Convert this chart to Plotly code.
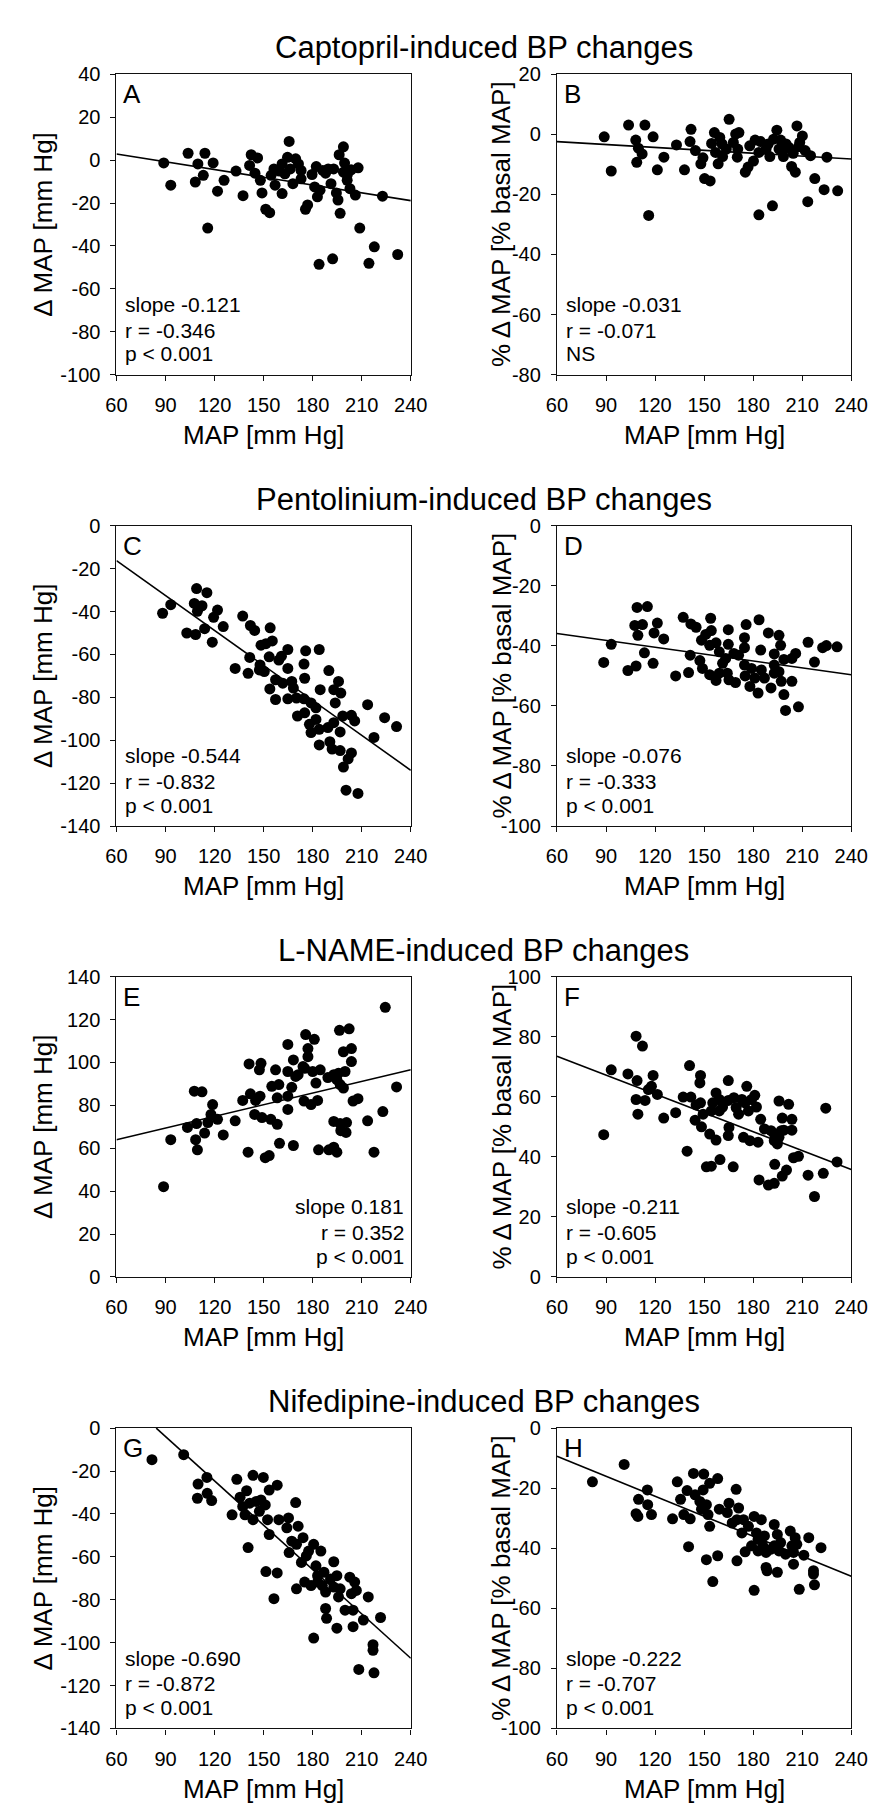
import plotly.graph_objects as go

# ---------------- data ----------------
MAP_TICKS = [60, 90, 120, 150, 180, 210, 240]

TITLES = ["Captopril-induced BP changes", "Pentolinium-induced BP changes",
          "L-NAME-induced BP changes", "Nifedipine-induced BP changes"]
X_TITLE = "MAP [mm Hg]"
Y_TITLE_ABS = "\u0394 MAP [mm Hg]"
Y_TITLE_PCT = "% \u0394 MAP [% basal MAP]"

A_points = [(88.9, -1.3), (93.2, -11.7), (103.8, 3.2), (108.2, -10.2), (109.8, -1.8), (114.1, 3.2),
            (113.1, -7.1), (115.8, -31.7), (119.1, -1.3), (121.8, -14.5), (125.8, -9.4), (133.1, -5.1),
            (137.4, -16.6), (142.4, 2.5), (141.4, -2.5), (144.7, -6.1), (146.3, 1.0), (148.0, -9.4),
            (149.0, -15.3), (151.3, -22.9), (153.7, -24.5), (154.6, -7.1), (156.3, -4.1), (157.0, -11.7),
            (159.6, -5.1), (161.3, -1.8), (161.3, -15.6), (164.6, 1.3), (166.3, -4.1), (167.9, -11.0),
            (165.6, 8.7), (169.6, 0.6), (171.3, -1.8), (172.9, -8.7), (175.6, -22.9), (176.9, -20.9),
            (179.6, -6.7), (181.2, -12.5), (182.2, -3.0), (182.9, -17.1), (184.5, -14.0), (187.9, -6.1),
            (189.5, -4.1), (191.2, -11.0), (194.5, -15.3), (195.5, -18.6), (196.2, 2.5), (198.8, 6.2),
            (199.5, -1.4), (201.1, -9.4), (202.8, -13.3), (203.5, -4.5), (206.1, -16.3), (207.8, -3.6),
            (198.8, -5.6), (201.1, -7.1), (183.9, -48.6), (192.2, -46.0), (208.8, -31.7), (214.4, -48.1),
            (217.7, -40.4), (222.7, -16.8), (232.0, -44.0), (196.8, -24.8), (192.8, -4.1), (186.2, -4.8),
            (172.9, -4.8), (163.0, -6.4)]
B_points = [(88.9, -0.8), (93.2, -12.2), (103.8, 3.1), (108.2, -1.9), (108.8, -9.3), (109.8, -4.6),
            (112.1, -6.5), (113.8, 3.1), (116.1, -27.0), (118.8, -0.8), (121.4, -11.8), (125.4, -7.6),
            (133.1, -3.5), (138.0, -11.8), (142.0, 1.7), (141.4, -2.4), (144.7, -5.4), (148.0, -9.8),
            (149.3, -7.8), (150.3, -14.7), (153.7, -15.5), (154.6, -3.0), (156.3, 0.6), (157.0, -6.0),
            (158.6, -9.8), (159.6, -1.0), (161.3, -7.4), (163.6, -4.9), (165.3, 5.0), (167.9, -2.7),
            (169.3, 0.1), (170.3, -7.6), (171.3, 0.6), (175.2, -12.6), (176.9, -10.9), (177.9, -3.8),
            (180.2, -8.9), (181.2, -1.9), (183.5, -6.0), (184.5, -2.4), (187.9, -4.9), (189.2, -3.2),
            (190.2, -7.4), (191.8, -23.8), (192.5, -1.6), (194.5, 1.4), (195.8, -4.9), (196.8, -1.9),
            (198.5, -7.4), (200.1, -3.2), (201.8, -4.3), (203.5, -10.7), (204.5, -6.3), (205.8, -12.6),
            (208.5, -2.7), (207.8, -4.1), (206.8, 2.8), (210.1, -0.5), (211.8, -5.4), (215.1, -7.1),
            (213.4, -22.4), (217.7, -14.7), (223.4, -18.4), (225.1, -7.6), (231.7, -18.8), (198.5, -5.2),
            (170.6, -4.9), (161.0, -3.2), (183.5, -26.8)]
C_points = [(88.2, -40.8), (93.2, -36.8), (109.0, -29.3), (115.3, -31.2), (107.6, -36.2), (112.3, -37.3),
            (109.5, -39.9), (121.8, -39.3), (119.4, -42.7), (103.0, -50.0), (108.4, -50.7), (113.9, -48.0),
            (125.3, -47.0), (118.6, -54.3), (137.2, -42.1), (141.9, -46.5), (144.5, -48.8), (154.0, -47.6),
            (148.4, -55.7), (151.4, -55.0), (155.3, -53.7), (141.5, -61.4), (132.6, -66.5), (140.5, -68.8),
            (147.8, -64.9), (150.4, -68.0), (153.4, -61.1), (159.3, -62.6), (164.8, -57.7), (175.7, -58.3),
            (184.0, -57.7), (174.7, -64.5), (164.8, -66.5), (175.1, -71.1), (157.3, -71.8), (153.8, -76.1),
            (161.7, -73.4), (167.2, -72.6), (168.2, -75.7), (157.3, -81.0), (164.8, -80.7), (170.1, -80.3),
            (174.7, -80.7), (179.0, -82.6), (182.0, -84.9), (184.6, -76.4), (189.9, -67.5), (195.8, -72.6),
            (192.9, -76.4), (197.2, -78.0), (193.8, -82.6), (213.6, -83.4), (170.7, -88.7), (175.1, -87.2),
            (178.0, -92.6), (182.0, -90.3), (179.0, -96.4), (184.0, -94.9), (189.3, -94.1), (192.9, -91.8),
            (198.4, -88.7), (203.7, -88.4), (205.7, -91.0), (196.8, -96.1), (184.0, -102.2), (190.5, -100.7),
            (191.9, -104.1), (196.8, -104.8), (203.7, -105.9), (201.7, -108.7), (198.8, -112.5), (217.5, -98.7),
            (224.0, -89.5), (231.3, -93.6), (200.4, -123.3), (207.7, -124.8), (160.9, -60.8), (147.4, -67.2)]
D_points = [(88.6, -45.5), (93.2, -39.5), (103.4, -48.2), (108.4, -46.7), (109.0, -27.2), (115.3, -26.9),
            (107.6, -33.2), (112.3, -32.9), (109.5, -36.5), (113.5, -42.3), (118.8, -45.8), (121.4, -32.4),
            (119.4, -35.7), (125.3, -37.7), (132.6, -50.0), (137.2, -30.5), (140.5, -48.9), (141.9, -32.7),
            (145.1, -33.8), (141.5, -43.1), (147.4, -44.9), (148.4, -38.1), (151.0, -36.2), (154.0, -30.8),
            (154.4, -34.9), (149.0, -47.5), (153.4, -39.8), (157.3, -39.0), (159.3, -42.0), (153.4, -49.6),
            (157.3, -51.5), (164.8, -34.6), (164.8, -39.5), (168.2, -42.5), (161.3, -45.8), (164.2, -49.1),
            (169.2, -52.2), (165.2, -51.3), (175.7, -32.9), (174.7, -37.3), (174.7, -40.6), (183.6, -31.3),
            (184.6, -41.4), (189.3, -35.7), (195.8, -36.5), (196.8, -39.8), (192.9, -42.7), (198.8, -44.5),
            (203.7, -44.2), (206.0, -42.5), (174.7, -46.4), (179.0, -47.5), (181.0, -50.7), (178.0, -53.5),
            (183.0, -55.7), (186.9, -50.7), (190.9, -54.0), (192.9, -49.1), (195.8, -48.6), (197.2, -51.8),
            (198.8, -56.2), (203.7, -51.8), (199.8, -61.5), (207.7, -60.3), (213.6, -38.8), (217.5, -45.4),
            (222.5, -40.6), (224.8, -39.9), (231.3, -40.3), (171.1, -43.1), (159.3, -49.1), (163.2, -44.2),
            (175.1, -50.0), (185.0, -48.0), (192.9, -46.4)]
E_points = [(88.8, 42.1), (93.2, 64.0), (103.4, 69.7), (108.4, 64.0), (109.5, 59.3), (109.0, 71.5),
            (107.6, 86.6), (112.3, 86.3), (113.9, 67.1), (115.9, 72.0), (118.8, 80.4), (117.8, 75.8),
            (121.8, 73.5), (125.3, 66.2), (132.6, 72.8), (137.2, 82.3), (140.5, 58.2), (141.1, 99.3),
            (141.9, 85.4), (145.1, 82.3), (144.5, 75.8), (147.8, 84.3), (148.4, 99.6), (147.4, 96.6),
            (149.0, 74.3), (151.0, 55.6), (153.4, 56.6), (154.4, 73.5), (155.0, 88.9), (157.3, 96.6),
            (159.3, 89.7), (158.3, 83.5), (158.3, 71.2), (159.7, 62.3), (164.8, 108.4), (164.8, 95.8),
            (164.8, 78.1), (164.8, 84.3), (168.2, 61.3), (167.2, 88.4), (168.2, 101.2), (169.6, 93.5),
            (174.1, 98.1), (174.7, 82.0), (175.7, 113.0), (179.0, 80.4), (177.1, 102.7), (177.1, 106.5),
            (181.0, 110.8), (182.0, 90.4), (180.0, 95.8), (184.6, 96.6), (183.0, 82.3), (183.6, 59.3),
            (189.3, 93.0), (189.9, 59.3), (192.9, 60.5), (194.8, 58.2), (192.9, 72.5), (196.8, 71.5),
            (197.2, 68.2), (200.4, 67.4), (200.7, 72.0), (196.4, 115.0), (202.3, 115.7), (198.8, 105.0),
            (203.7, 106.5), (203.7, 100.4), (194.8, 92.0), (195.8, 95.0), (199.8, 95.8), (196.8, 89.7),
            (198.8, 88.1), (204.7, 82.0), (207.7, 83.1), (213.6, 72.8), (217.5, 58.2), (222.9, 77.1),
            (224.4, 125.7), (231.3, 88.6), (171.1, 94.3), (175.1, 97.3), (192.9, 94.3)]
F_points = [(88.6, 47.4), (93.2, 69.0), (103.4, 67.6), (108.4, 80.2), (112.3, 76.9), (109.0, 65.4),
            (108.4, 59.1), (113.9, 58.8), (109.5, 54.2), (115.9, 62.4), (118.8, 67.1), (117.8, 63.5),
            (121.4, 60.8), (125.3, 52.9), (132.6, 54.7), (137.2, 59.9), (139.6, 41.9), (141.1, 70.4),
            (141.9, 59.9), (145.1, 57.3), (144.5, 52.2), (147.8, 67.1), (147.4, 64.6), (147.8, 58.0),
            (148.4, 50.0), (149.4, 54.2), (151.4, 36.7), (154.4, 36.9), (153.4, 47.6), (157.3, 45.6),
            (154.4, 55.3), (155.3, 58.0), (157.3, 61.3), (159.3, 59.1), (159.7, 39.1), (161.3, 56.6),
            (164.8, 65.4), (164.8, 58.8), (164.8, 47.1), (165.2, 49.8), (167.8, 36.7), (168.2, 59.7),
            (169.6, 56.4), (171.1, 54.2), (173.1, 59.1), (174.1, 46.5), (175.1, 58.0), (176.1, 63.5),
            (178.0, 45.4), (179.0, 59.1), (181.0, 60.5), (182.0, 56.6), (183.0, 44.9), (184.6, 52.5),
            (183.6, 32.3), (186.9, 49.3), (189.3, 30.6), (190.9, 48.7), (192.9, 31.2), (193.2, 37.5),
            (192.9, 45.4), (194.8, 44.3), (195.8, 58.6), (195.8, 46.5), (197.2, 48.7), (197.8, 52.9),
            (198.8, 48.9), (197.8, 33.6), (200.4, 35.6), (201.7, 57.5), (203.7, 52.5), (203.7, 48.9),
            (204.7, 39.7), (207.7, 40.2), (213.6, 33.9), (217.5, 26.8), (222.9, 34.5), (224.4, 56.2),
            (231.3, 38.3), (192.9, 47.6), (177.1, 55.3), (159.3, 55.3)]
G_points = [(81.7, -14.7), (101.1, -12.4), (109.9, -26.1), (115.3, -23.0), (109.5, -32.7), (115.5, -30.4),
            (118.2, -33.8), (133.6, -23.9), (130.7, -40.4), (143.5, -22.0), (149.8, -23.0), (158.3, -26.6),
            (153.4, -28.9), (139.6, -29.2), (135.6, -32.2), (137.2, -36.5), (138.6, -40.4), (141.5, -35.0),
            (145.5, -34.2), (148.4, -33.5), (143.5, -42.7), (147.4, -38.8), (151.0, -35.8), (152.4, -42.7),
            (153.4, -49.6), (159.3, -42.7), (165.2, -41.9), (164.2, -46.5), (169.6, -34.7), (171.1, -45.7),
            (140.5, -55.7), (151.4, -66.9), (158.3, -67.5), (156.3, -79.5), (170.1, -74.9), (165.6, -58.0),
            (167.2, -52.7), (170.1, -54.2), (174.1, -51.1), (173.1, -62.6), (176.1, -59.6), (180.6, -54.2),
            (185.0, -57.3), (182.0, -64.2), (177.5, -57.3), (175.1, -71.8), (179.0, -73.4), (183.0, -71.8),
            (186.9, -67.2), (187.9, -76.4), (192.9, -62.3), (192.9, -74.1), (194.8, -68.8), (195.8, -78.7),
            (196.8, -74.9), (202.7, -69.5), (205.7, -71.8), (203.7, -77.2), (206.7, -75.7), (187.9, -84.1),
            (188.5, -88.7), (194.8, -93.3), (199.8, -84.9), (204.7, -84.9), (204.7, -92.6), (211.0, -89.5),
            (214.0, -78.7), (221.5, -88.3), (180.6, -97.9), (216.9, -101.0), (216.9, -103.6), (208.2, -112.5),
            (217.5, -114.1), (183.0, -68.8), (190.9, -70.3), (185.9, -73.4)]
H_points = [(81.7, -17.9), (101.1, -12.1), (109.9, -23.7), (115.3, -20.6), (108.4, -28.5), (109.5, -29.4),
            (115.5, -25.5), (117.8, -28.8), (130.7, -30.2), (133.6, -17.9), (135.6, -23.7), (139.6, -20.8),
            (137.6, -28.8), (141.5, -30.2), (143.5, -15.1), (149.8, -15.3), (158.3, -16.8), (153.4, -18.4),
            (149.4, -20.6), (144.5, -22.2), (147.4, -24.4), (151.4, -25.5), (148.4, -27.0), (152.4, -28.8),
            (153.4, -32.7), (159.3, -27.0), (165.2, -25.0), (164.2, -28.1), (169.6, -20.4), (171.1, -26.6),
            (140.5, -39.5), (151.4, -43.8), (158.3, -42.5), (155.3, -51.1), (170.1, -44.2), (167.2, -31.6),
            (170.1, -30.5), (174.1, -30.5), (173.1, -34.9), (177.1, -32.7), (180.6, -29.4), (185.0, -30.5),
            (182.0, -34.9), (175.1, -41.2), (179.0, -39.2), (183.0, -40.9), (186.9, -35.9), (187.9, -41.4),
            (192.9, -32.1), (192.9, -39.2), (194.8, -35.4), (195.8, -40.9), (196.8, -38.1), (202.7, -34.3),
            (205.7, -36.5), (203.7, -39.2), (206.7, -38.7), (187.9, -46.4), (188.5, -47.5), (194.8, -48.0),
            (199.8, -42.0), (204.7, -41.4), (204.7, -45.3), (211.0, -42.3), (214.0, -36.5), (221.5, -39.8),
            (180.6, -54.0), (216.9, -47.5), (216.9, -48.6), (208.2, -53.7), (217.5, -52.2), (185.9, -39.2),
            (190.9, -40.3), (183.0, -37.0)]

# regression lines (end points)
A_line_x, A_line_y = [60, 240], [2.85, -18.9]
B_line_x, B_line_y = [60, 240], [-2.4, -8.2]
C_line_x, C_line_y = [60, 240], [-16.3, -114.0]
D_line_x, D_line_y = [60, 240], [-35.9, -49.6]
E_line_x, E_line_y = [60, 240], [64.0, 96.6]
F_line_x, F_line_y = [60, 240], [73.5, 35.8]
G_line_x, G_line_y = [84.3, 240], [0.0, -107.3]
H_line_x, H_line_y = [60, 240], [-9.4, -49.3]

Y_RANGES = {"A": (-100, 40), "B": (-80, 20), "C": (-140, 0), "D": (-100, 0),
            "E": (0, 140), "F": (0, 100), "G": (-140, 0), "H": (-100, 0)}

STATS = {"A": ["slope -0.121", "r = -0.346", "p < 0.001"],
         "B": ["slope -0.031", "r = -0.071", "NS"],
         "C": ["slope -0.544", "r = -0.832", "p < 0.001"],
         "D": ["slope -0.076", "r = -0.333", "p < 0.001"],
         "E": ["slope 0.181", "r = 0.352", "p < 0.001"],
         "F": ["slope -0.211", "r = -0.605", "p < 0.001"],
         "G": ["slope -0.690", "r = -0.872", "p < 0.001"],
         "H": ["slope -0.222", "r = -0.707", "p < 0.001"]}

# ---------------- figure ----------------
W, H = 877, 1805
FONT = "Liberation Sans, Arial, Helvetica, sans-serif"
COL_LEFT = [100.7, 555.7]
ROW_TOP = [56.0, 513.0, 969.5, 1426.5]
PLOT = 304.0

panels = [
    ("A", A_points, A_line_x, A_line_y, Y_TITLE_ABS, "left"),
    ("B", B_points, B_line_x, B_line_y, Y_TITLE_PCT, "left"),
    ("C", C_points, C_line_x, C_line_y, Y_TITLE_ABS, "left"),
    ("D", D_points, D_line_x, D_line_y, Y_TITLE_PCT, "left"),
    ("E", E_points, E_line_x, E_line_y, Y_TITLE_ABS, "right"),
    ("F", F_points, F_line_x, F_line_y, Y_TITLE_PCT, "left"),
    ("G", G_points, G_line_x, G_line_y, Y_TITLE_ABS, "left"),
    ("H", H_points, H_line_x, H_line_y, Y_TITLE_PCT, "left"),
]


def px(xp):
    return xp / W


def py(yp):
    return 1 - yp / H


axis_style = dict(showline=True, linecolor="#111111", linewidth=1.2, mirror=True,
                  ticks="outside", ticklen=5, tickwidth=1, tickcolor="#111111",
                  showgrid=False, zeroline=False,
                  tickfont=dict(family=FONT, size=20, color="black"))

fig = go.Figure()
layout = dict(width=W, height=H, margin=dict(l=0, r=0, t=0, b=0),
              paper_bgcolor="white", plot_bgcolor="white", showlegend=False)
annotations = []

for i, (letter, pts, lx, ly, ytitle, side) in enumerate(panels):
    r, c = divmod(i, 2)
    x0, y0 = COL_LEFT[c], ROW_TOP[r]
    n = i + 1
    xs = [p[0] for p in pts]
    ys = [p[1] for p in pts]
    ref_x = "x" if n == 1 else f"x{n}"
    ref_y = "y" if n == 1 else f"y{n}"
    lo, hi = Y_RANGES[letter]
    yticks = list(range(lo, hi + 1, 20))
    layout[f"xaxis{n}"] = dict(domain=[px(x0), px(x0 + PLOT)], anchor=ref_y, range=[60, 240],
                               tickvals=MAP_TICKS, ticktext=[str(t) for t in MAP_TICKS],
                               ticklabelstandoff=7, **axis_style)
    layout[f"yaxis{n}"] = dict(domain=[py(y0 + PLOT), py(y0)], anchor=ref_x, range=[lo, hi],
                               tickvals=yticks, ticktext=[str(t) for t in yticks],
                               ticklabelstandoff=6, **axis_style)
    fig.add_trace(go.Scatter(x=lx, y=ly, mode="lines", xaxis=ref_x, yaxis=ref_y,
                             line=dict(color="black", width=1.6), hoverinfo="skip"))
    fig.add_trace(go.Scatter(x=xs, y=ys, mode="markers", xaxis=ref_x, yaxis=ref_y,
                             marker=dict(color="black", size=11, line=dict(width=0))))

    # panel letter
    annotations.append(dict(text=letter, x=px(x0 + 5), y=py(y0 + 3), xref="paper", yref="paper",
                            xanchor="left", yanchor="top", showarrow=False,
                            font=dict(family=FONT, size=26, color="black")))
    # statistics
    for k, line in enumerate(STATS[letter]):
        yc = y0 + PLOT - [71, 45, 21][k]
        if side == "left":
            ax, anc = x0 + 7, "left"
        else:
            ax, anc = x0 + PLOT - 5, "right"
        annotations.append(dict(text=line, x=px(ax), y=py(yc), xref="paper", yref="paper",
                                xanchor=anc, yanchor="middle", showarrow=False,
                                font=dict(family=FONT, size=21, color="black")))
    # axis titles
    annotations.append(dict(text=X_TITLE, x=px(x0 + PLOT / 2), y=py(y0 + PLOT + 61),
                            xref="paper", yref="paper", xanchor="center", yanchor="middle",
                            showarrow=False, font=dict(family=FONT, size=26, color="black")))
    annotations.append(dict(text=ytitle, x=px(25 if c == 0 else 498.5), y=py(y0 + PLOT / 2),
                            xref="paper", yref="paper", xanchor="center", yanchor="middle",
                            textangle=-90, showarrow=False,
                            font=dict(family=FONT, size=26, color="black")))

for r, title in enumerate(TITLES):
    annotations.append(dict(text=title, x=px(480.2), y=py(ROW_TOP[r] - 27), xref="paper", yref="paper",
                            xanchor="center", yanchor="middle", showarrow=False,
                            font=dict(family=FONT, size=31, color="black")))

layout["annotations"] = annotations
fig.update_layout(**layout)
fig.write_html("out.html")
